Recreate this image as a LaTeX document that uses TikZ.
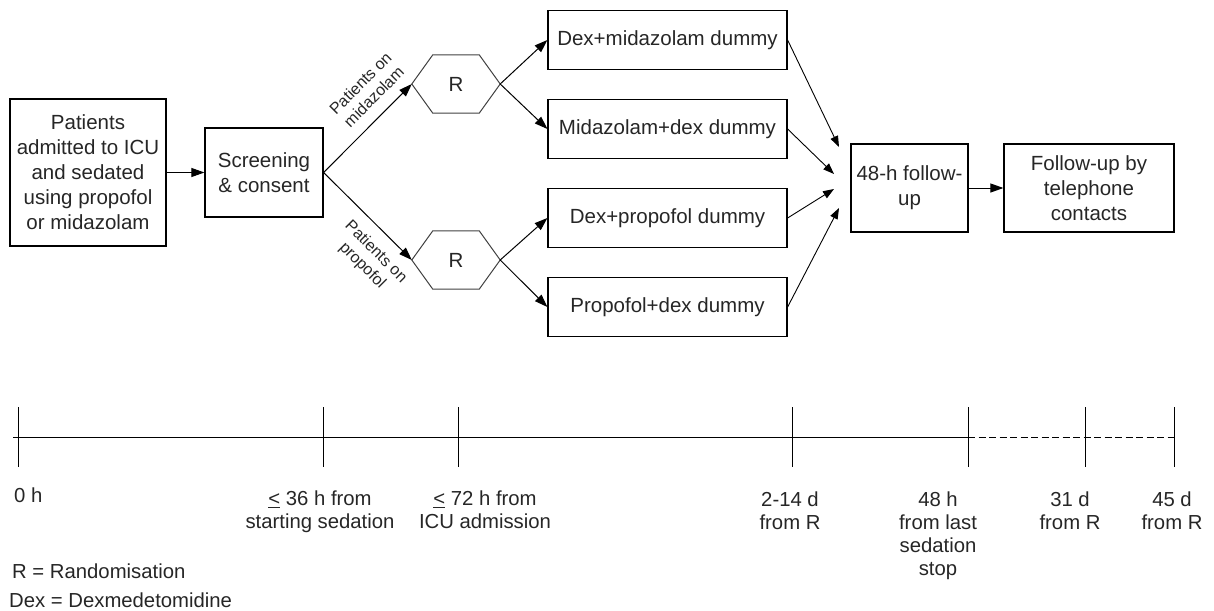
\documentclass[tikz,border=0pt]{standalone}
\usepackage{fontspec}
\setmainfont{Liberation Sans}
\usetikzlibrary{arrows.meta,calc}
\newcommand\boxfont{\fontsize{20.5}{25}\selectfont}
\newcommand\tlfont{\fontsize{20.3}{23}\selectfont}
\newcommand\lblfont{\fontsize{16}{19}\selectfont}
\begin{document}
\begin{tikzpicture}[x=1pt,y=-1pt,
  box/.style={draw, line width=1.2pt, inner sep=0pt, align=center, font=\boxfont, text=black!85},
  hexnode/.style={inner sep=0pt, minimum width=88pt, minimum height=58pt, font=\boxfont, text=black!85},
  hexline/.style={draw=black!75, line width=1pt},
  arr/.style={-{Triangle[length=13pt,width=9pt]}, line width=1pt},
  conv/.style={-{Triangle[length=11pt,width=8pt]}, line width=0.9pt},
  lbl/.style={font=\lblfont, align=center, text=black!85, inner sep=0pt},
  tl/.style={font=\tlfont, align=center, text=black!85, inner sep=0pt},
  tick/.style={line width=1pt},
]
\useasboundingbox (0,0) rectangle (1214,610);

% boxes
\node[box, minimum width=156pt, minimum height=147pt] (pat) at (88,172.5) {Patients\\admitted to ICU\\and sedated\\using propofol\\or midazolam};
\node[box, minimum width=118pt, minimum height=89pt] (scr) at (264,172.5) {Screening\\\& consent};

\node[hexnode] (h1) at (456,84) {R};
\node[hexnode] (h2) at (456,260) {R};
\foreach \h in {h1,h2}{
  \draw[hexline] (\h.west) -- ($(\h.north west)+(21,0)$) -- ($(\h.north east)+(-21,0)$) -- (\h.east)
     -- ($(\h.south east)+(-21,0)$) -- ($(\h.south west)+(21,0)$) -- cycle;
}

\node[box, minimum width=239pt, minimum height=59pt] (b1) at (667.5,40) {Dex+midazolam dummy};
\node[box, minimum width=239pt, minimum height=59pt] (b2) at (667.5,129) {Midazolam+dex dummy};
\node[box, minimum width=239pt, minimum height=59pt] (b3) at (667.5,218) {Dex+propofol dummy};
\node[box, minimum width=239pt, minimum height=59pt] (b4) at (667.5,307) {Propofol+dex dummy};

\node[box, minimum width=117pt, minimum height=88pt] (fu) at (909.5,188) {48-h follow-\\up};
\node[box, minimum width=170pt, minimum height=88pt] (tel) at (1089,188) {Follow-up by\\telephone\\contacts};

% connectors
\draw[arr] (pat.east) -- (scr.west);
\draw[arr] (scr.east) -- (h1.west);
\draw[arr] (scr.east) -- (h2.west);
\draw[arr] (h1.east) -- (b1.west);
\draw[arr] (h1.east) -- (b2.west);
\draw[arr] (h2.east) -- (b3.west);
\draw[arr] (h2.east) -- (b4.west);

\coordinate (c1) at (839,147);
\coordinate (c2) at (834,174);
\coordinate (c3) at (834,189);
\coordinate (c4) at (839,208);
\draw[conv] (b1.east) -- (c1);
\draw[conv] (b2.east) -- (c2);
\draw[conv] (b3.east) -- (c3);
\draw[conv] (b4.east) -- (c4);
\draw[arr] (fu.east) -- (tel.west);

% branch labels
\node[lbl, rotate=45] (lm) at (367,90) {Patients on\\midazolam};
\node[lbl, rotate=-45] (lp) at (369,259) {Patients on\\propofol};

% timeline
\draw[line width=1pt] (13,437) -- (968,437);
\draw[line width=1pt, dash pattern=on 7pt off 3.5pt] (968,437) -- (1174,437);
\foreach \x in {18,323,458,792,968,1085,1174}{
  \draw[tick] (\x,407) -- (\x,467);
}
\node[tl, anchor=west] (l0) at (14,495) {0 h};
\node[tl, anchor=north] (l36) at (320,491) {\underline{<} 36 h from\\starting sedation};
\node[tl, anchor=north] (l72) at (485,491) {\underline{<} 72 h from\\ICU admission};
\node[tl, anchor=north] (l214) at (790,492) {2-14 d\\from R};
\node[tl, anchor=north] (l48) at (938,492) {48 h\\from last\\sedation\\stop};
\node[tl, anchor=north] (l31) at (1070,492) {31 d\\from R};
\node[tl, anchor=north] (l45) at (1172,492) {45 d\\from R};

% legend
\node[tl, anchor=west] (lgR) at (12,571) {R = Randomisation};
\node[tl, anchor=west] (lgD) at (9,600) {Dex = Dexmedetomidine};
\end{tikzpicture}
\end{document}
